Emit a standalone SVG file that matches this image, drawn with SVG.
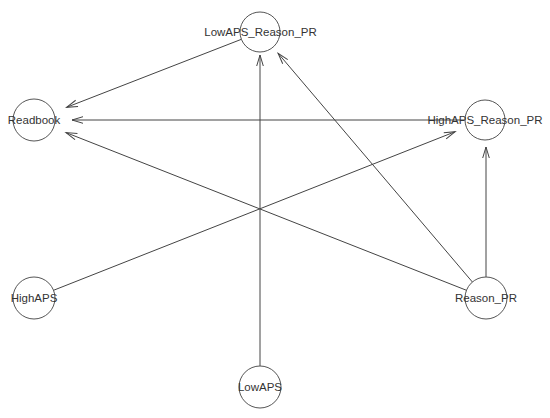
<svg xmlns="http://www.w3.org/2000/svg" width="550" height="418" viewBox="0 0 550 418">
<style>
.n{fill:none;stroke:#555;stroke-width:1}
.t{font-family:"Liberation Sans",Arial,sans-serif;font-size:11.5px;fill:#333;text-anchor:middle}
.e{stroke:#444;stroke-width:1;fill:none;marker-end:url(#a)}
</style>
<defs>
<marker id="a" markerUnits="userSpaceOnUse" markerWidth="14" markerHeight="10" viewBox="-12 -5 14 10" refX="0" refY="0" orient="auto">
<path d="M-11,-3.3 L0,0 L-11,3.3" fill="none" stroke="#444" stroke-width="1"/>
</marker>
</defs>
<rect width="550" height="418" fill="#fff"/>
<g id="edges">
<line class="e" x1="260" y1="366" x2="260" y2="55"/>
<line class="e" x1="472.4" y1="282" x2="278.1" y2="53.3"/>
<line class="e" x1="486" y1="277" x2="486" y2="147"/>
<line class="e" x1="466.5" y1="290.3" x2="66" y2="132.6"/>
<line class="e" x1="464" y1="120" x2="72" y2="120"/>
<line class="e" x1="241.4" y1="39.3" x2="66.6" y2="107.3"/>
<line class="e" x1="53.5" y1="290.3" x2="455.2" y2="131.7"/>
</g>
<g id="LowAPS_Reason_PR"><circle class="n" cx="260" cy="32" r="20"/><text class="t" x="260.5" y="36">LowAPS_Reason_PR</text></g>
<g id="Readbook"><circle class="n" cx="34" cy="120" r="21"/><text class="t" x="34" y="124">Readbook</text></g>
<g id="HighAPS_Reason_PR"><circle class="n" cx="485" cy="120" r="20"/><text class="t" x="485" y="124">HighAPS_Reason_PR</text></g>
<g id="HighAPS"><circle class="n" cx="34" cy="298" r="21"/><text class="t" x="34" y="302">HighAPS</text></g>
<g id="Reason_PR"><circle class="n" cx="486" cy="298" r="21"/><text class="t" x="486" y="302">Reason_PR</text></g>
<g id="LowAPS"><circle class="n" cx="260" cy="387" r="21"/><text class="t" x="260" y="391">LowAPS</text></g>
</svg>
